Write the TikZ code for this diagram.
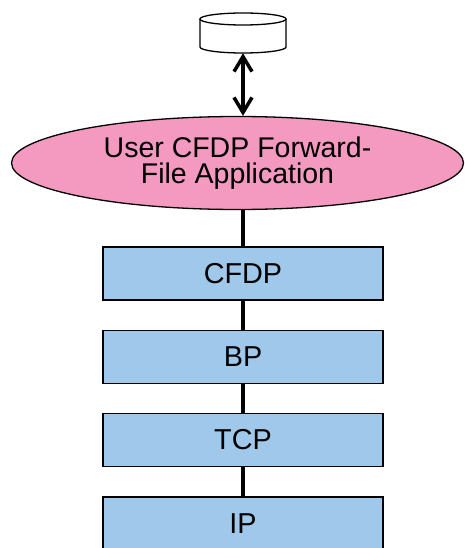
\documentclass[tikz,border=0pt]{standalone}
\usepackage{fontspec}
\setmainfont{Liberation Sans}
\usetikzlibrary{shapes.geometric,arrows.meta}
\definecolor{apppink}{HTML}{F49AC1}
\definecolor{layerblue}{HTML}{9FC8EA}
\begin{document}
\begin{tikzpicture}[x=1pt,y=-1pt,
  layer/.style={draw=black,line width=1.3pt,fill=layerblue,minimum width=280pt,minimum height=53pt,inner sep=0pt,font=\fontsize{28.8}{30}\selectfont},
  link/.style={line width=3.5pt},
  app/.style={ellipse,draw=black,line width=1.3pt,fill=apppink,minimum width=452pt,minimum height=93pt,inner sep=0pt,align=center,font=\fontsize{28.5}{26}\selectfont},
  barbtip/.tip={Straight Barb[length=15pt,width=18pt,line width=3.5pt]}]
\useasboundingbox (0,0) rectangle (464,548);
% storage cylinder
\node[minimum width=86pt,minimum height=40pt,inner sep=0pt] (db) at (243,33) {};
\draw[line width=1.3pt,fill=white] (200,19) -- (200,47) arc[start angle=180,end angle=360,x radius=43,y radius=-6] -- (286,19);
\draw[line width=1.3pt,fill=white] (243,19) ellipse[x radius=43,y radius=6];
% application
\node[app] (app) at (237.5,163) {User CFDP Forward-\\File Application};
% layers
\node[layer] (cfdp) at (243,273.5) {CFDP};
\node[layer] (bp) at (243,357) {BP};
\node[layer] (tcp) at (243,440) {TCP};
\node[layer] (ip) at (243,523.5) {IP};
% connectors
\draw[link,barbtip-barbtip] (db.south) -- (db.south |- app.north);
\draw[link] (cfdp.north |- app.south) -- (cfdp.north);
\draw[link] (cfdp) -- (bp);
\draw[link] (bp) -- (tcp);
\draw[link] (tcp) -- (ip);
\end{tikzpicture}
\end{document}
